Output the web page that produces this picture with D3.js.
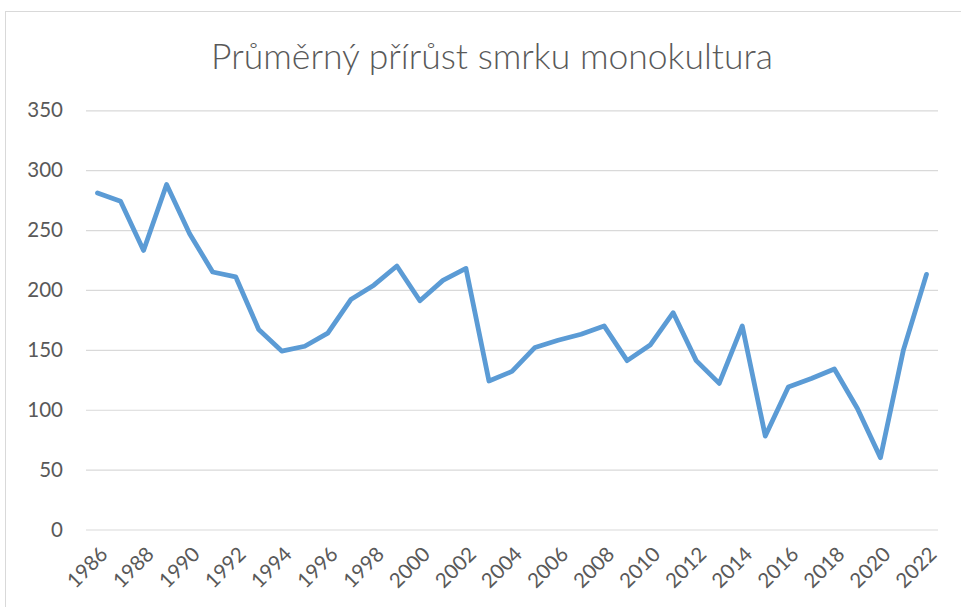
<!DOCTYPE html>
<html>
<head>
<meta charset="utf-8">
<script src="https://cdn.jsdelivr.net/npm/d3@7"></script>
<style>
  html, body { margin: 0; padding: 0; background: #fff; }
  svg { display: block; }
  text { font-family: Lato, "Open Sans", sans-serif; fill: #595959; }
</style>
</head>
<body>
<svg id="chart" width="961" height="607"></svg>
<script>
const title = "Průměrný přírůst smrku monokultura";
const years = ["1986","1987","1988","1989","1990","1991","1992","1993","1994","1995",
  "1996","1997","1998","1999","2000","2001","2002","2003","2004","2005","2006","2007",
  "2008","2009","2010","2011","2012","2013","2014","2015","2016","2017","2018","2019",
  "2020","2021","2022"];
const values = [281, 274, 233, 288, 247, 215, 211, 167, 149, 153,
  164, 192, 204, 220, 191, 208, 218, 124, 132, 152, 158, 163,
  170, 141, 154, 181, 141, 122, 170, 78, 119, 126, 134, 101,
  60, 150, 213];
const xTickLabels = ["1986","1988","1990","1992","1994","1996","1998","2000","2002",
  "2004","2006","2008","2010","2012","2014","2016","2018","2020","2022"];
const yTickValues = [0, 50, 100, 150, 200, 250, 300, 350];

const svg = d3.select("#chart");
const plot = { left: 86, right: 938, top: 110.3, bottom: 529.5 };

// chart border (extends past the visible area on right/bottom)
svg.append("rect")
  .attr("x", 5.5).attr("y", 11.5)
  .attr("width", 1100).attr("height", 800)
  .attr("fill", "none").attr("stroke", "#D9D9D9").attr("stroke-width", 1);

const x = d3.scalePoint().domain(years).range([plot.left, plot.right]).padding(0.5);
const y = d3.scaleLinear().domain([0, 350]).range([plot.bottom, plot.top]);

// title
svg.append("text")
  .attr("x", 492).attr("y", 69)
  .attr("text-anchor", "middle")
  .style("font-size", "35.5px")
  .style("font-weight", 300)
  .text(title);

// y axis with gridlines
const yAxis = svg.append("g")
  .attr("transform", `translate(${plot.left},0)`)
  .call(d3.axisLeft(y).tickValues(yTickValues).tickSize(-(plot.right - plot.left)).tickPadding(23));
yAxis.select(".domain").remove();
yAxis.selectAll(".tick line").attr("stroke", "#D9D9D9").attr("stroke-width", 1.2);
yAxis.selectAll(".tick text")
  .attr("fill", "#595959")
  .style("font-size", "20.5px");

// x axis labels
const xAxis = svg.append("g")
  .attr("transform", `translate(0,${plot.bottom})`)
  .call(d3.axisBottom(x).tickValues(xTickLabels).tickSize(0));
xAxis.select(".domain").remove();
xAxis.selectAll(".tick text")
  .attr("fill", "#595959")
  .style("font-size", "20.5px")
  .attr("text-anchor", "end")
  .attr("dy", null)
  .attr("y", null)
  .attr("transform", "translate(11,26) rotate(-45)");

// line
const line = d3.line()
  .x((d, i) => x(years[i]))
  .y(d => y(d));

svg.append("path")
  .datum(values)
  .attr("d", line)
  .attr("fill", "none")
  .attr("stroke", "#5B9BD5")
  .attr("stroke-width", 4.8)
  .attr("stroke-linejoin", "round")
  .attr("stroke-linecap", "round");
</script>
</body>
</html>
